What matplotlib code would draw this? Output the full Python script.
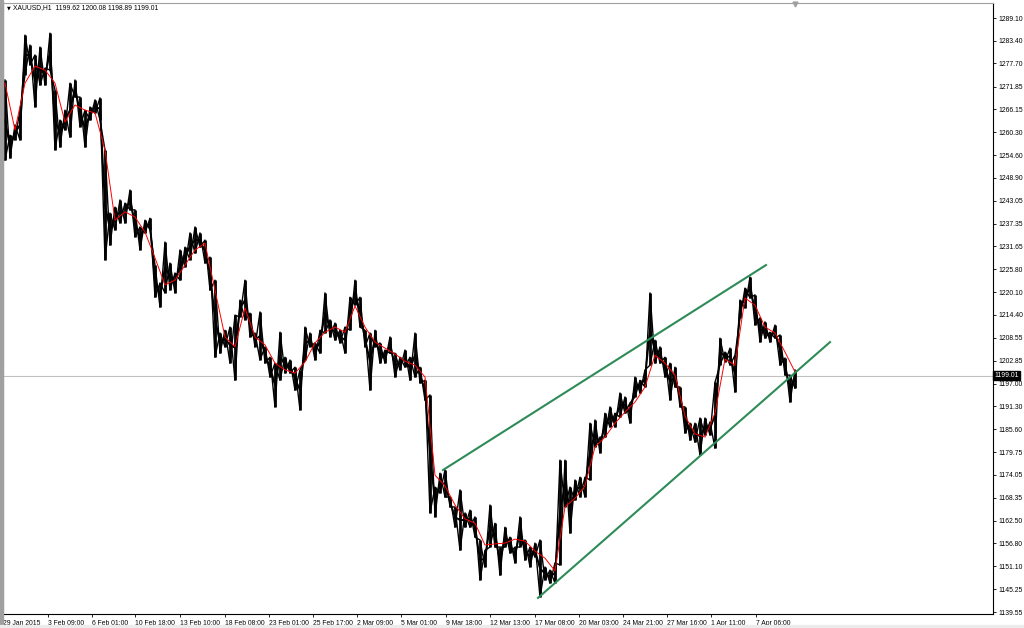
import numpy as np
import matplotlib
matplotlib.use("Agg")
import matplotlib.pyplot as plt
import matplotlib.transforms as mtransforms

# ---- data (XAUUSD H1, one sample ~ a few hourly bars) ----
hi = [1273.5, 1259.6, 1262.2, 1265.9, 1284.8, 1282.3, 1279.8, 1281.8, 1276.5, 1285.3,
      1271.0, 1263.4, 1265.9, 1272.7, 1273.5, 1269.2, 1265.9, 1266.7, 1268.5, 1269.0,
      1255.9, 1240.0, 1241.5, 1243.3, 1242.5, 1245.8, 1240.8, 1236.5, 1238.2, 1238.7,
      1226.9, 1222.4, 1232.7, 1227.4, 1224.9, 1230.7, 1231.4, 1235.0, 1236.5, 1235.0,
      1233.2, 1228.9, 1223.1, 1209.8, 1210.5, 1211.3, 1214.3, 1218.1, 1223.1, 1214.8,
      1209.8, 1215.1, 1206.3, 1203.7, 1202.2, 1210.0, 1203.7, 1203.0, 1201.2, 1200.5,
      1211.3, 1209.8, 1207.3, 1210.5, 1219.9, 1213.1, 1212.3, 1210.5, 1211.3, 1218.8,
      1223.1, 1218.8, 1210.5, 1209.8, 1210.5, 1207.3, 1205.5, 1208.8, 1204.7, 1203.7,
      1205.5, 1203.7, 1209.8, 1201.2, 1197.9, 1194.2, 1171.0, 1174.5, 1175.3, 1168.5,
      1166.0, 1170.3, 1164.5, 1165.2, 1163.5, 1157.7, 1155.1, 1166.5, 1161.9, 1155.9,
      1160.9, 1158.4, 1155.9, 1163.5, 1157.7, 1155.9, 1156.9, 1157.7, 1150.9, 1150.1,
      1151.9, 1177.8, 1177.8, 1171.0, 1172.8, 1173.5, 1173.5, 1187.1, 1187.9, 1183.6,
      1189.6, 1191.2, 1189.6, 1194.7, 1193.7, 1192.2, 1198.7, 1197.9, 1200.5, 1219.9,
      1208.0, 1206.3, 1203.7, 1202.2, 1201.2, 1196.2, 1191.2, 1187.1, 1187.1, 1188.4,
      1188.4, 1187.4, 1197.4, 1208.5, 1205.0, 1206.0, 1204.2, 1218.1, 1221.1, 1223.9,
      1219.4, 1213.6, 1212.6, 1210.0, 1211.8, 1209.3, 1203.5, 1199.2, 1200.5]

lo = [1253.3, 1253.8, 1258.4, 1258.4, 1274.7, 1277.3, 1266.7, 1272.2, 1272.2, 1276.0,
      1255.9, 1256.6, 1260.9, 1259.1, 1269.2, 1261.7, 1256.6, 1263.4, 1265.2, 1263.4,
      1228.2, 1231.9, 1235.7, 1237.5, 1237.5, 1240.8, 1234.0, 1230.7, 1235.0, 1235.7,
      1218.8, 1216.3, 1219.9, 1220.6, 1219.9, 1223.1, 1226.4, 1228.2, 1229.9, 1231.4,
      1227.4, 1220.6, 1203.7, 1204.7, 1206.3, 1202.2, 1197.9, 1213.8, 1213.1, 1208.8,
      1206.3, 1203.0, 1202.2, 1198.7, 1191.2, 1197.9, 1199.7, 1199.7, 1195.4, 1190.4,
      1203.0, 1206.3, 1203.0, 1204.7, 1209.8, 1208.8, 1208.0, 1207.3, 1204.7, 1210.5,
      1216.8, 1211.3, 1206.3, 1195.4, 1206.3, 1202.2, 1202.2, 1204.7, 1198.7, 1200.5,
      1201.2, 1197.9, 1198.7, 1197.2, 1192.9, 1164.5, 1163.5, 1169.5, 1168.5, 1166.0,
      1160.9, 1155.1, 1160.9, 1160.9, 1158.4, 1147.6, 1150.9, 1155.9, 1155.9, 1148.8,
      1155.9, 1154.4, 1151.9, 1155.9, 1152.6, 1150.9, 1153.4, 1143.3, 1147.6, 1146.8,
      1146.8, 1151.4, 1166.0, 1159.4, 1167.7, 1168.5, 1168.5, 1172.8, 1181.1, 1179.6,
      1183.6, 1186.1, 1186.1, 1188.6, 1189.6, 1187.1, 1193.7, 1194.7, 1196.2, 1201.7,
      1202.2, 1202.2, 1198.7, 1192.9, 1196.2, 1191.2, 1184.6, 1182.8, 1182.3, 1179.1,
      1184.1, 1184.1, 1180.8, 1201.7, 1202.5, 1201.7, 1194.9, 1213.6, 1216.1, 1218.6,
      1211.8, 1207.5, 1208.5, 1207.5, 1208.5, 1201.7, 1199.2, 1192.4, 1195.9]

# moving average (red), one value every second sample
ma = [1272.7, 1260.9, 1272.7, 1277.0, 1276.0, 1272.7, 1262.9, 1267.2, 1265.9, 1265.2,
      1255.9, 1238.2, 1240.3, 1239.0, 1235.2, 1228.7, 1221.9, 1223.1, 1226.9, 1230.7,
      1232.4, 1220.6, 1208.8, 1206.3, 1216.1, 1208.8, 1206.8, 1202.2, 1200.5, 1199.7,
      1202.5, 1207.3, 1210.0, 1211.3, 1210.0, 1216.6, 1211.3, 1207.5, 1206.0, 1204.5,
      1202.7, 1201.7, 1198.7, 1174.0, 1171.3, 1166.5, 1163.0, 1161.9, 1156.4, 1156.7,
      1156.9, 1157.9, 1157.4, 1154.9, 1153.1, 1149.9, 1166.0, 1168.2, 1171.3, 1181.1,
      1183.6, 1187.1, 1189.9, 1192.4, 1196.2, 1204.2, 1202.2, 1199.2, 1188.9, 1184.4,
      1183.6, 1189.6, 1203.2, 1201.7, 1218.6, 1216.8, 1211.3, 1209.8, 1205.0, 1200.0]

# trend channel (sample index, price)
upper_x = [87.6, 152.2]
upper_y = [1175.3, 1226.9]
lower_x = [106.6, 165.0]
lower_y = [1143.1, 1207.5]

last_price = 1199.01
header = "XAUUSD,H1  1199.62 1200.08 1198.89 1199.01"

x_tick_pos = [-0.4, 8.5, 17.3, 26.0, 35.0, 44.0, 52.8, 61.6, 70.4, 79.2,
              88.2, 97.0, 106.0, 114.8, 123.6, 132.4, 141.2, 150.2]
x_tick_lab = ["29 Jan 2015", "3 Feb 09:00", "6 Feb 01:00", "10 Feb 18:00", "13 Feb 10:00",
              "18 Feb 08:00", "23 Feb 01:00", "25 Feb 17:00", "2 Mar 09:00", "5 Mar 01:00",
              "9 Mar 18:00", "12 Mar 13:00", "17 Mar 08:00", "20 Mar 03:00", "24 Mar 21:00",
              "27 Mar 16:00", "1 Apr 11:00", "7 Apr 06:00"]
y_ticks = [1289.10, 1283.40, 1277.70, 1271.85, 1266.15, 1260.30, 1254.60, 1248.90,
           1243.05, 1237.35, 1231.65, 1225.80, 1220.10, 1214.40, 1208.55, 1202.85,
           1197.00, 1191.30, 1185.60, 1179.75, 1174.05, 1168.35, 1162.50, 1156.80,
           1151.10, 1145.25, 1139.55]

FONT = ['Liberation Sans', 'DejaVu Sans']
FS = 4.9

fig = plt.figure(figsize=(10.24, 6.28), dpi=100)
fig.patch.set_facecolor('white')
# window chrome: grey left edge and bottom strip
fig.patches.append(plt.Rectangle((0, 0), 2.5 / 1024, 1, transform=fig.transFigure,
                                 color='#a0a0a0', zorder=0))
fig.patches.append(plt.Rectangle((0, 0), 1, 3 / 628, transform=fig.transFigure,
                                 color='#ececec', zorder=0))

ax = fig.add_axes([3 / 1024, 14 / 628, 990 / 1024, 611 / 628])
x = np.arange(len(hi))
hi_a = np.array(hi)
lo_a = np.array(lo)

# bars: high-low sticks plus criss-cross strokes between neighbours
ax.vlines(x, lo_a, hi_a, color='black', lw=2.0, zorder=2)
zz1 = np.where(x % 2 == 0, hi_a, lo_a)
zz2 = np.where(x % 2 == 0, lo_a, hi_a)
ax.plot(x, zz1, color='black', lw=1.0, zorder=2)
ax.plot(x, zz2, color='black', lw=1.0, zorder=2)
ax.plot(x, (hi_a + lo_a) / 2, color='black', lw=1.4, zorder=2)

ax.plot(np.arange(0, len(hi), 2), ma, color='#ff0000', lw=0.7, zorder=3)
ax.plot(upper_x, upper_y, color='#2e8b57', lw=1.5, zorder=4)
ax.plot(lower_x, lower_y, color='#2e8b57', lw=1.5, zorder=4)
ax.axhline(last_price, color='#c0c0c0', lw=0.8, zorder=1)

ax.set_xlim(-0.4, 197.6)
ax.set_ylim(1139.05, 1292.88)

ax.yaxis.tick_right()
ax.set_yticks(y_ticks)
ax.set_yticklabels([f"{v:.2f}" for v in y_ticks], family=FONT, fontsize=FS)
ax.set_xticks(x_tick_pos)
ax.set_xticklabels(x_tick_lab, family=FONT, fontsize=FS, ha='left')
ax.tick_params(axis='y', length=2.2, width=0.6, pad=1.5, colors='black')
ax.tick_params(axis='x', length=2.5, width=0.6, pad=1.5, colors='black')

for s in ['left', 'top']:
    ax.spines[s].set_color('#a0a0a0')
    ax.spines[s].set_linewidth(0.8)
for s in ['right', 'bottom']:
    ax.spines[s].set_color('black')
    ax.spines[s].set_linewidth(0.8)

# header text
ax.text(0.004, 0.992, "\u25bc", transform=ax.transAxes, fontsize=3.5,
        family=['DejaVu Sans'], va='center', ha='left')
ax.text(0.0105, 0.992, header, transform=ax.transAxes, fontsize=FS,
        family=FONT, va='center', ha='left')

# chart shift marker at top
ax.plot([0.8], [0.998], marker='v', color='#a0a0a0', ms=3.5, transform=ax.transAxes,
        clip_on=False)

# current price label
trans = mtransforms.blended_transform_factory(ax.transAxes, ax.transData)
ax.text(1.0015, last_price, f"{last_price:.2f}", transform=trans, fontsize=FS,
        family=FONT, color='white', va='center', ha='left', zorder=10,
        bbox=dict(boxstyle='square,pad=0.15', fc='black', ec='black'))

fig.savefig("out.png", dpi=100)
